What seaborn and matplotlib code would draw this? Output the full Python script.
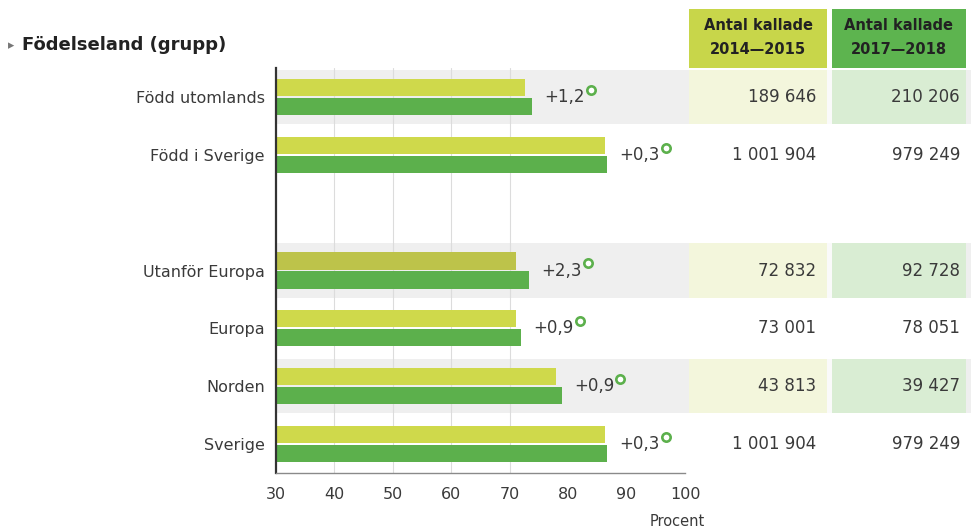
import matplotlib
matplotlib.use("Agg")
import matplotlib.pyplot as plt
import seaborn as sns
import pandas as pd
from matplotlib.patches import Rectangle

# ---------------- data ----------------
categories = ["Född utomlands", "Född i Sverige", " ", "Utanför Europa", "Europa", "Norden", "Sverige"]
groups = ["Född utomlands", "Född i Sverige", "Utanför Europa", "Europa", "Norden", "Sverige"]
periods = ["2014—2015", "2017—2018"]
pct_2014_2015 = [72.6, 86.3, 71.0, 71.0, 78.0, 86.3]
pct_2017_2018 = [73.8, 86.6, 73.3, 71.9, 78.9, 86.6]
changes = ["+1,2", "+0,3", "+2,3", "+0,9", "+0,9", "+0,3"]
n_2014_2015 = ["189 646", "1 001 904", "72 832", "73 001", "43 813", "1 001 904"]
n_2017_2018 = ["210 206", "979 249", "92 728", "78 051", "39 427", "979 249"]
shaded = ["Född utomlands", "Utanför Europa", "Norden"]
x_ticks = [30, 40, 50, 60, 70, 80, 90, 100]
grid_ticks = [40, 50, 60, 70]
title = "Födelseland (grupp)"
header = "Antal kallade"
xlabel = "Procent"

# ---------------- style ----------------
LIGHT = "#cfd94b"
LIGHT_ALT = "#bdc34a"
DARK = "#5cb04c"
HEAD1 = "#c8d64a"
HEAD2 = "#5db44f"
BAND = "#efefef"
BAND1 = "#f3f6dc"
BAND2 = "#d9edd3"
TXT = "#3a3a3a"

sns.set_theme(style="white")
plt.rcParams["font.family"] = ["DejaVu Sans"]

W, H = 971, 530
fig = plt.figure(figsize=(W / 100, H / 100), dpi=100)


def px(x0, y0, x1, y1):
    return [x0 / W, 1 - y1 / H, (x1 - x0) / W, (y1 - y0) / H]


ax = fig.add_axes(px(276, 68, 685, 473))
tab = fig.add_axes(px(685, 68, 971, 473))
ov = fig.add_axes([0, 0, 1, 1])
ov.set_xlim(0, W)
ov.set_ylim(H, 0)
ov.axis("off")
ov.patch.set_alpha(0)

df = pd.DataFrame({
    "grupp": groups * 2,
    "period": [periods[0]] * len(groups) + [periods[1]] * len(groups),
    "procent": pct_2014_2015 + pct_2017_2018,
})

for g in shaded:
    i = categories.index(g)
    ax.axhspan(i - 0.47, i + 0.47, color=BAND, zorder=0, lw=0)

for gx in grid_ticks:
    ax.axvline(gx, color="#dcdcdc", lw=0.8, zorder=0.5)

sns.barplot(data=df, y="grupp", x="procent", hue="period", order=categories,
            hue_order=periods, palette=[LIGHT, DARK], orient="h", width=0.66,
            gap=0.1, saturation=1, legend=False, ax=ax, zorder=2, linewidth=0)

ui = categories.index("Utanför Europa")
for bar in ax.containers[0]:
    cy = bar.get_y() + bar.get_height() / 2
    if round(cy) == ui:
        bar.set_facecolor(LIGHT_ALT)

ax.set_xlim(30, 100)
ax.set_ylim(len(categories) - 0.5, -0.5)
ax.set_xticks(x_ticks)
ax.set_xticklabels([str(t) for t in x_ticks], fontsize=11.5, color=TXT)
ax.tick_params(axis="x", length=0, pad=10)
ax.tick_params(axis="y", length=0, pad=8, labelsize=11.5, labelcolor=TXT)
ax.set_xlabel("")
ax.set_ylabel("")
for s in ["top", "right"]:
    ax.spines[s].set_visible(False)
ax.spines["left"].set_color("#333333")
ax.spines["left"].set_linewidth(1.6)
ax.spines["bottom"].set_color("#8a8a8a")
ax.spines["bottom"].set_linewidth(1.0)
ax.patch.set_alpha(0)

# change annotations
ann = []
for g, a, b, c in zip(groups, pct_2014_2015, pct_2017_2018, changes):
    i = categories.index(g)
    t = ax.annotate(c, xy=(max(a, b), i), xytext=(9, 0), textcoords="offset points",
                    va="center", ha="left", fontsize=12, color=TXT, zorder=3,
                    annotation_clip=False)
    ann.append(t)

# table
tab.set_xlim(685, 971)
tab.set_ylim(len(categories) - 0.5, -0.5)
tab.axis("off")
for g in shaded:
    i = categories.index(g)
    tab.add_patch(Rectangle((685, i - 0.47), 4, 0.94, color=BAND, lw=0))
    tab.add_patch(Rectangle((689, i - 0.47), 138, 0.94, color=BAND1, lw=0))
    tab.add_patch(Rectangle((827, i - 0.47), 5, 0.94, color="#fafafa", lw=0))
    tab.add_patch(Rectangle((832, i - 0.47), 134, 0.94, color=BAND2, lw=0))
    tab.add_patch(Rectangle((966, i - 0.47), 5, 0.94, color=BAND, lw=0))
for g, n1, n2 in zip(groups, n_2014_2015, n_2017_2018):
    i = categories.index(g)
    tab.text(816, i, n1, ha="right", va="center", fontsize=12, color=TXT)
    tab.text(960, i, n2, ha="right", va="center", fontsize=12, color=TXT)

# header cells
ov.add_patch(Rectangle((689, 9), 138, 59, color=HEAD1, lw=0))
ov.add_patch(Rectangle((832, 9), 134, 59, color=HEAD2, lw=0))
for cx, p in zip([758, 899], periods):
    ov.text(cx, 26, header, ha="center", va="center", fontsize=10.5,
            fontweight="bold", color="#222222")
    ov.text(cx, 49, p, ha="center", va="center", fontsize=10.5,
            fontweight="bold", color="#222222")

# title
ov.text(8, 46, "▸", ha="left", va="center", fontsize=9, color="#777777")
ov.text(22, 45, title, ha="left", va="center", fontsize=13, fontweight="bold",
        color="#222222")
ov.text(705, 521, xlabel, ha="right", va="center", fontsize=10.5, color=TXT)

# rings after the change labels
fig.canvas.draw()
r = fig.canvas.get_renderer()
for t in ann:
    bb = t.get_window_extent(r)
    x = bb.x1 + 6
    y = H - (bb.y0 + bb.height * 0.9)
    ov.plot([x], [y], marker="o", markersize=6, mfc="white", mec=DARK,
            mew=1.9, zorder=5)

fig.savefig("out.png", dpi=100)
